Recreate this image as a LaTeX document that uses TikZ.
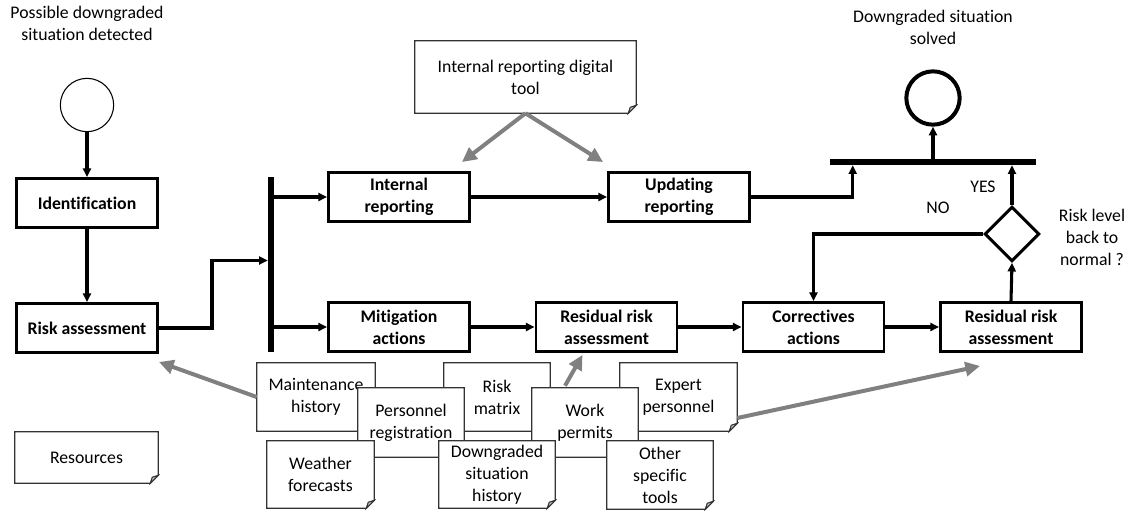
\documentclass[tikz,border=0pt]{standalone}
\usepackage{fontspec}
\setmainfont{Carlito}[Ligatures={NoCommon}]
\usetikzlibrary{arrows.meta,shapes.geometric,calc}

\tikzset{
  every node/.style={font=\fontsize{13.3pt}{16.5pt}\selectfont},
  taskbox/.style={draw, line width=2.2pt, minimum width=105.75pt, minimum height=36.75pt, inner sep=0pt, align=center, font=\fontsize{13.3pt}{16.5pt}\selectfont\bfseries},
  flow/.style={line width=2.3pt, -{Triangle[length=6.5pt,width=6pt]}},
  resflow/.style={draw=gray, line width=3pt, -{Triangle[length=11pt,width=10.5pt]}},
  note/.style={fill=white, inner sep=0pt, align=center},
  notefold/.style={draw=black!80, line width=0.8pt, line join=miter},
  syncbar/.style={fill=black, inner sep=0pt}
}

% folded corner outline of a note node
\newcommand\drawnote[1]{%
  \draw[notefold] (#1.north west) -- (#1.north east) -- ($(#1.south east)+(0,-8)$) -- ($(#1.south east)+(-8,0)$) -- (#1.south west) -- cycle;
  \filldraw[notefold, fill=gray!45] ($(#1.south east)+(0,-8)$) -- ($(#1.south east)+(-8,0)$) -- ($(#1.south east)+(-6,-6)$) -- cycle;}

\begin{document}
\begin{tikzpicture}[x=0.75pt,y=0.75pt,yscale=-1,xscale=1]
\useasboundingbox (0,0) rectangle (1133,511);

%Shape: Circle (start)
\node[circle, draw, line width=0.8pt, minimum size=40pt, inner sep=0pt] (start) at (87,105) {};
% Text Node
\node[align=center] (startlbl) at (87,23) {Possible downgraded\\situation detected};

%Tasks
\node[taskbox] (id) at (87,203) {Identification};
\node[taskbox] (ra) at (87,328) {Risk assessment};
\node[taskbox] (ir) at (399,197) {Internal\\reporting};
\node[taskbox] (ur) at (679,197) {Updating\\reporting};
\node[taskbox] (ma) at (399,327) {Mitigation\\actions};
\node[taskbox] (rr) at (606.5,327) {Residual risk\\assessment};
\node[taskbox] (ca) at (813.5,327) {Correctives\\actions};
\node[taskbox] (rrb) at (1011,327) {Residual risk\\assessment};

%Bars
\node[syncbar, minimum width=4.5pt, minimum height=131.25pt] (lbar) at (271,264.5) {};
\node[syncbar, minimum width=154.5pt, minimum height=4.5pt] (tbar) at (933,162) {};

%Shape: Diamond
\node[diamond, draw, line width=2.2pt, minimum size=41pt, inner sep=0pt] (dec) at (1012,234) {};
% Text Node
\node (yes) at (983,187) {YES};
\node (no) at (938,208) {NO};
\node[align=center] (ask) at (1092,237) {Risk level\\back to\\normal ?};

%Shape: Circle (end)
\node[circle, draw, line width=3pt, minimum size=40pt, inner sep=0pt] (endc) at (933,98) {};
% Text Node
\node[align=center] (endlbl) at (933,27) {Downgraded situation\\solved};

%Straight Lines
\draw[flow] (start) -- (id);
\draw[flow] (id) -- (ra);
\draw[flow] (ra.east) -- ++(53,0) |- ($(lbar.west)+(0,-4)$);
\draw[flow] (lbar.east |- ir.west) -- (ir.west);
\draw[flow] (lbar.east |- ma.west) -- (ma.west);
\draw[flow] (ir) -- (ur);
\draw[flow] (ma) -- (rr);
\draw[flow] (rr) -- (ca);
\draw[flow] (ca) -- (rrb);
\draw[flow] (ur.east) -| ($(tbar.south west)+(23,0)$);
\draw[flow] (rrb.north) -- (dec.south);
\draw[flow] (dec.north) -- (dec.north |- tbar.south);
\draw[flow] (dec.west) -| (ca.north);
\draw[flow] (tbar.north -| endc.south) -- (endc.south);

%Notes
\node[note, minimum width=165.75pt, minimum height=54pt] (itool) at (525.5,77) {Internal reporting digital\\tool};
\drawnote{itool}
\node[note, minimum width=107.25pt, minimum height=38.25pt] (res) at (86.5,457.5) {Resources};
\drawnote{res}

\node[note, minimum width=88.5pt, minimum height=51pt] (mh) at (316,397) {Maintenance\\history};
\drawnote{mh}
\node[note, minimum width=79.5pt, minimum height=51pt] (rm) at (497,397) {Risk\\matrix};
\drawnote{rm}
\node[note, minimum width=87.75pt, minimum height=51pt] (ep) at (678.5,397) {Expert\\personnel};
\drawnote{ep}
\node[note, minimum width=79.5pt, minimum height=51.75pt] (pr) at (411,422.5) {Personnel\\registration};
\drawnote{pr}
\node[note, minimum width=79.5pt, minimum height=51.75pt] (wp) at (585,422.5) {Work\\permits};
\drawnote{wp}
\node[note, minimum width=80.25pt, minimum height=50.25pt] (wf) at (320.5,474.5) {Weather\\forecasts};
\drawnote{wf}
\node[note, minimum width=87pt, minimum height=50.25pt] (dh) at (497,474.5) {Downgraded\\situation\\history};
\drawnote{dh}
\node[note, minimum width=79.5pt, minimum height=51pt] (ot) at (660,475) {Other\\specific\\tools};
\drawnote{ot}

%Resource arrows
\draw[resflow] (itool.south) -- ($(ir.north east)+(-9,-9)$);
\draw[resflow] (itool.south) -- ($(ur.north west)+(-4,-9)$);
\draw[resflow] (mh.west) -- ($(ra.south east)+(0,8)$);
\draw[resflow] ($(wp.north)+(-20,-2)$) -- ($(rr.south)+(-24,2)$);
\draw[resflow] ($(ep.east)+(0,21)$) -- ($(rrb.south)+(-31,13)$);
\end{tikzpicture}
\end{document}
